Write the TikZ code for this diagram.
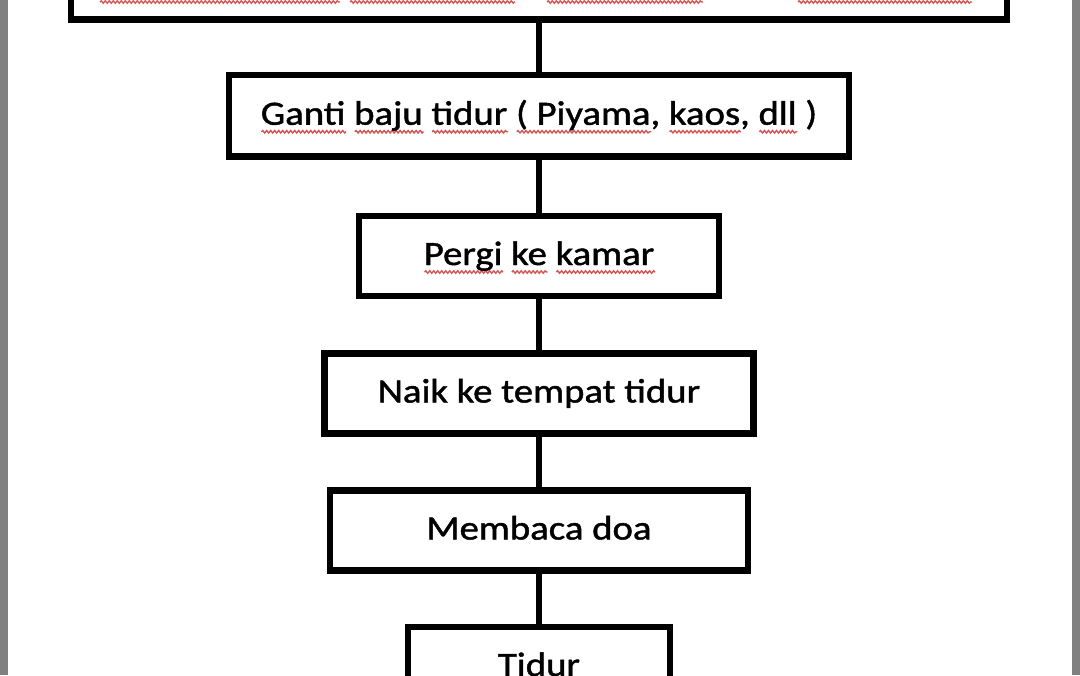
\documentclass[tikz,border=0pt]{standalone}
\usepackage{fontspec}
\setmainfont{Carlito}[FakeStretch=1.14,FakeBold=1.3]
\usetikzlibrary{decorations.pathmorphing}
\definecolor{squigred}{RGB}{214,84,84}
\newdimen\squigwd
\newcommand\squig[1]{\setbox0\hbox{#1}\squigwd=\wd0\rlap{\tikz[baseline=0pt,x=1pt,y=1pt]
    \draw[squigline] (0pt,-3.5pt) -- (\squigwd,-3.5pt);}\box0\relax}
\tikzset{
    squigline/.style={draw=squigred,line width=0.7pt,
        decorate,decoration={snake,segment length=2pt,amplitude=0.6pt}}
}
\begin{document}
\begin{tikzpicture}[
        x=0.5pt,y=-0.5pt,
        every path/.style={line width=2.6pt},
        stepbox/.style={draw,line width=3.2pt,inner sep=0pt,
            text height=13pt,text depth=4pt,font=\fontsize{17}{20}\selectfont}
    ]
    \fill[white] (0,0) rectangle (1080,675);
    \fill[gray] (0,0) rectangle (8,675);
    \fill[gray] (1072,0) rectangle (1080,675);
    \useasboundingbox (0,0) rectangle (1080,675);

    \node [stepbox,minimum width=468pt,minimum height=40pt] (awal) at (539,-20.5) {};
    \draw [squigline] (100,2) -- (340,2);
    \draw [squigline] (350,2) -- (515,2);
    \draw [squigline] (547,2) -- (703,2);
    \draw [squigline] (798,2) -- (972,2);

    \node [stepbox,minimum width=309.75pt,minimum height=40.75pt] (ganti) at (539,115.75)
        {\squig{Ganti} \squig{baju} \squig{tidur} \squig{( Piyama}, \squig{kaos}, \squig{dll} )};
    \node [stepbox,minimum width=179.75pt,minimum height=40pt] (kamar) at (539,256)
        {\squig{Pergi} \squig{ke} \squig{kamar}};
    \node [stepbox,minimum width=214.5pt,minimum height=40pt] (naik) at (539,393.5)
        {Naik ke tempat tidur};
    \node [stepbox,minimum width=209pt,minimum height=40pt] (doa) at (539,530.5)
        {Membaca doa};
    \node [stepbox,minimum width=131pt,minimum height=40pt] (tidur) at (539,667)
        {Tidur};

    \draw (awal.south) -- (ganti.north);
    \draw (ganti.south) -- (kamar.north);
    \draw (kamar.south) -- (naik.north);
    \draw (naik.south) -- (doa.north);
    \draw (doa.south) -- (tidur.north);
\end{tikzpicture}
\end{document}
